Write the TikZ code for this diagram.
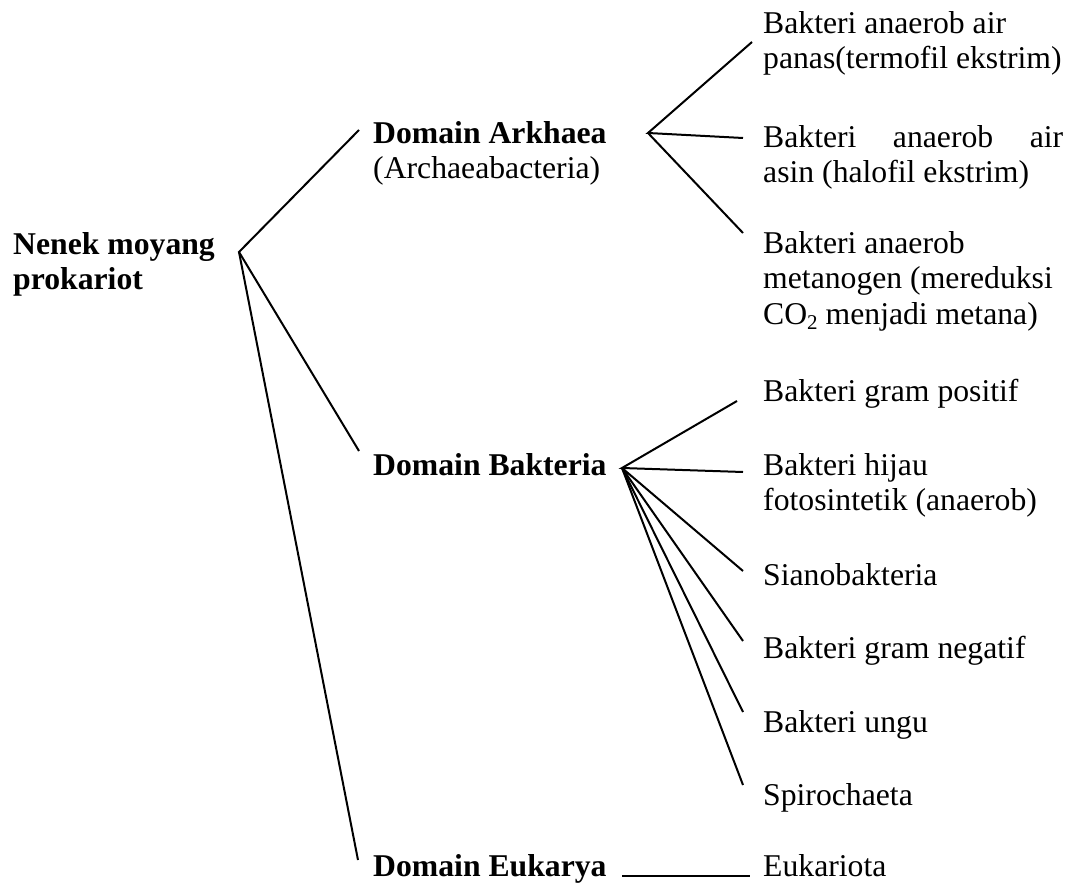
\documentclass[tikz,border=0pt]{standalone}
\usepackage{fontspec}
\setmainfont{Liberation Serif}

\begin{document}
\begin{tikzpicture}[x=1pt, y=-1pt,
	txt/.style={inner sep=0, anchor=base west},
	txtm/.style={inner sep=0, anchor=north west, align=left},
	ln/.style={line width=2pt}]
	\fontsize{31.7}{35.5}\selectfont
	\useasboundingbox (0, 0) rectangle (1071, 885);
	% labels
	\node[txtm, font=\bfseries] (nenek) at (13, 229.15) {\strut Nenek moyang\\prokariot};
	\node[txtm] (ark) at (373, 118.15) {\strut\textbf{Domain Arkhaea}\\(Archaeabacteria)};
	\node[txt, font=\bfseries] (bak) at (373, 475) {Domain Bakteria};
	\node[txt, font=\bfseries] (euk) at (373, 876) {Domain Eukarya};
	\node[txtm] (termo) at (763, 8.15) {\strut Bakteri anaerob air\\panas(termofil ekstrim)};
	\node[txtm] (halo) at (763, 122.15) {\strut\makebox[300pt][s]{Bakteri anaerob air}\\asin (halofil ekstrim)};
	\node[txtm] (metano) at (763, 228.15) {\strut Bakteri anaerob\\metanogen (mereduksi\\CO\raisebox{-0.35ex}{\fontsize{21}{21}\selectfont 2} menjadi metana)};
	\node[txt] (gpos) at (763, 401) {Bakteri gram positif};
	\node[txtm] (hijau) at (763, 450.15) {\strut Bakteri hijau\\fotosintetik (anaerob)};
	\node[txt] (siano) at (763, 585) {Sianobakteria};
	\node[txt] (gneg) at (763, 658) {Bakteri gram negatif};
	\node[txt] (ungu) at (763, 732) {Bakteri ungu};
	\node[txt] (spiro) at (763, 805) {Spirochaeta};
	\node[txt] (eukario) at (763, 876) {Eukariota};
	% branch points
	\coordinate (root) at (239, 252);
	\coordinate (arkfan) at (648, 133);
	\coordinate (bakfan) at (622, 468);
	\coordinate (eukfan) at (622, 876);
	% line ends
	\coordinate (arkin) at (359, 130);
	\coordinate (bakin) at (359, 451);
	\coordinate (eukin) at (358, 860);
	\coordinate (termoin) at (752, 42);
	\coordinate (haloin) at (743, 138);
	\coordinate (metanoin) at (743, 233);
	\coordinate (gposin) at (737, 401);
	\coordinate (hijauin) at (743, 472);
	\coordinate (sianoin) at (743, 571);
	\coordinate (gnegin) at (743, 641);
	\coordinate (unguin) at (743, 712);
	\coordinate (spiroin) at (743, 785);
	\coordinate (eukarioin) at (750, 876);
	% tree
	\draw[ln] (arkin) -- (root) -- (bakin);
	\draw[ln] (root) -- (eukin);
	\draw[ln] (termoin) -- (arkfan) -- (haloin);
	\draw[ln] (arkfan) -- (metanoin);
	\draw[ln] (gposin) -- (bakfan) -- (hijauin);
	\draw[ln] (bakfan) -- (sianoin);
	\draw[ln] (bakfan) -- (gnegin);
	\draw[ln] (bakfan) -- (unguin);
	\draw[ln] (bakfan) -- (spiroin);
	\draw[ln] (eukfan) -- (eukarioin);
\end{tikzpicture}
\end{document}
